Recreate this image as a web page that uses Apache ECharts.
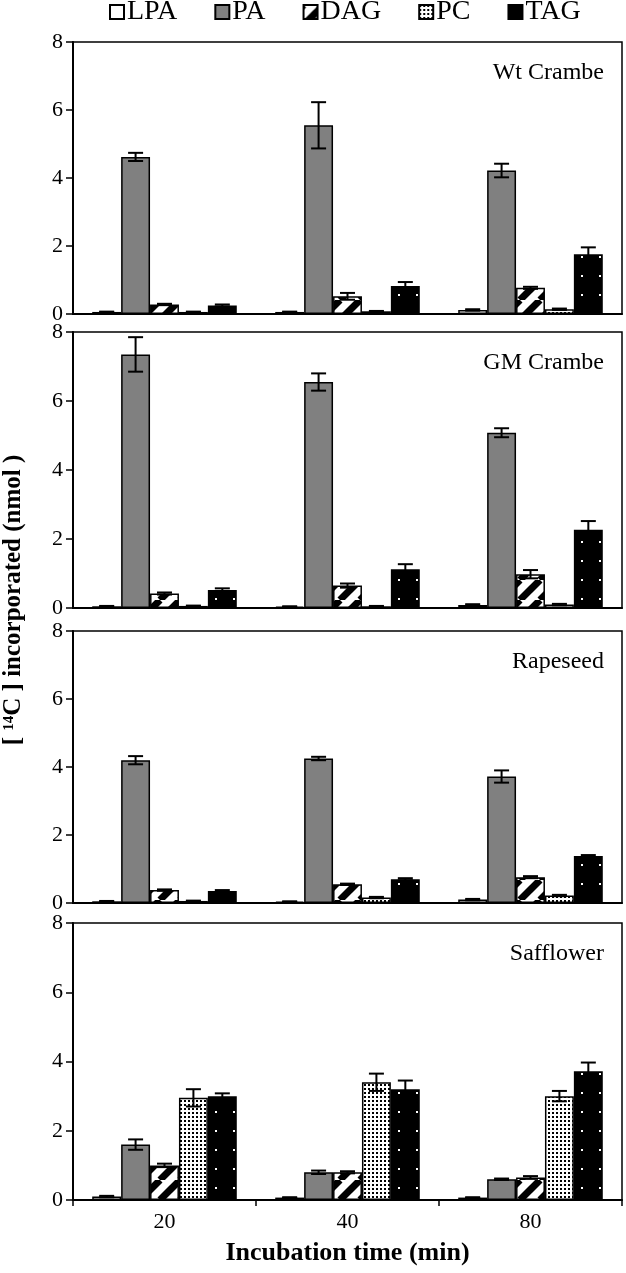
<!DOCTYPE html>
<html>
<head>
<meta charset="utf-8">
<script src="https://cdn.jsdelivr.net/npm/echarts@6/dist/echarts.min.js"></script>
<style>
html,body{margin:0;padding:0;background:#fff;}
#chart{width:626px;height:1273px;}
</style>
</head>
<body>
<div id="chart"></div>
<script>
// ---------- data ----------
const categories = ['20', '40', '80'];
const lipids = ['LPA', 'PA', 'DAG', 'PC', 'TAG'];
const panelNames = ['Wt Crambe', 'GM Crambe', 'Rapeseed', 'Safflower'];
const yTicks = [0, 2, 4, 6, 8];

// rows follow lipids order: LPA, PA, DAG, PC, TAG ; columns follow categories
const wtCrambeValues = [
  [0.06, 0.06, 0.12],
  [4.62, 5.55, 4.22],
  [0.28, 0.52, 0.77],
  [0.06, 0.08, 0.14],
  [0.25, 0.82, 1.76]
];
const wtCrambeErrors = [
  [0.01, 0.01, 0.02],
  [0.12, 0.68, 0.20],
  [0.02, 0.10, 0.03],
  [0.01, 0.01, 0.02],
  [0.03, 0.12, 0.20]
];
const gmCrambeValues = [
  [0.05, 0.04, 0.09],
  [7.35, 6.55, 5.08],
  [0.42, 0.65, 0.98],
  [0.06, 0.05, 0.10],
  [0.52, 1.12, 2.27]
];
const gmCrambeErrors = [
  [0.01, 0.01, 0.02],
  [0.50, 0.25, 0.13],
  [0.03, 0.06, 0.12],
  [0.01, 0.01, 0.02],
  [0.05, 0.15, 0.25]
];
const rapeseedValues = [
  [0.05, 0.04, 0.10],
  [4.20, 4.25, 3.72],
  [0.38, 0.55, 0.76],
  [0.06, 0.16, 0.22],
  [0.35, 0.70, 1.38]
];
const rapeseedErrors = [
  [0.01, 0.01, 0.02],
  [0.12, 0.05, 0.18],
  [0.02, 0.02, 0.03],
  [0.01, 0.02, 0.02],
  [0.03, 0.03, 0.03]
];
const safflowerValues = [
  [0.10, 0.07, 0.07],
  [1.60, 0.80, 0.60],
  [1.00, 0.80, 0.65],
  [2.95, 3.40, 3.00],
  [3.00, 3.20, 3.72]
];
const safflowerErrors = [
  [0.02, 0.01, 0.01],
  [0.15, 0.05, 0.02],
  [0.05, 0.03, 0.04],
  [0.25, 0.25, 0.15],
  [0.08, 0.25, 0.25]
];
const panelValues = [wtCrambeValues, gmCrambeValues, rapeseedValues, safflowerValues];
const panelErrors = [wtCrambeErrors, gmCrambeErrors, rapeseedErrors, safflowerErrors];

// ---------- styles ----------
const FONT = '"Liberation Serif", "Times New Roman", serif';
const gridBoxes = [
  {top: 42, height: 272},
  {top: 332, height: 276},
  {top: 631, height: 272},
  {top: 923, height: 277}
];
const CAT_GAP = 0.21;

function makePattern(w, h, draw) {
  const c = document.createElement('canvas');
  c.width = w; c.height = h;
  const ctx = c.getContext('2d');
  draw(ctx, w, h);
  return {image: c, repeat: 'repeat'};
}
const hatch = makePattern(20, 20, (ctx, w, h) => {
  ctx.fillStyle = '#fff'; ctx.fillRect(0, 0, w, h);
  ctx.strokeStyle = '#000'; ctx.lineWidth = 7;
  for (let k = -1; k <= 1; k++) {
    ctx.beginPath(); ctx.moveTo(k * w, h); ctx.lineTo(k * w + w, 0); ctx.stroke();
  }
});
const dotsDense = makePattern(4, 4, (ctx, w, h) => {
  ctx.fillStyle = '#fff'; ctx.fillRect(0, 0, w, h);
  ctx.fillStyle = '#000'; ctx.fillRect(0, 0, 2, 2);
});
const darkDots = makePattern(61, 19, (ctx, w, h) => {
  ctx.fillStyle = '#000'; ctx.fillRect(0, 0, w, h);
  ctx.fillStyle = '#fff';
  ctx.fillRect(32, 9, 2, 2);
  ctx.fillRect(50, 9, 2, 2);
});
const lipidFills = ['#ffffff', '#808080', hatch, dotsDense, darkDots];

// ---------- build option ----------
const grids = [], xAxes = [], yAxes = [], series = [], titles = [];
gridBoxes.forEach((g, p) => {
  grids.push({left: 73, right: 4, top: g.top, height: g.height, show: true,
    borderColor: '#000', borderWidth: 1.5, backgroundColor: 'transparent'});
  const last = p === gridBoxes.length - 1;
  xAxes.push({
    type: 'category', gridIndex: p, data: categories,
    axisLine: {show: true, lineStyle: {color: '#000', width: 2}},
    axisTick: {show: last, length: 6, lineStyle: {color: '#000', width: 1.5}},
    axisLabel: {show: last, color: '#000', fontFamily: FONT, fontSize: 22, margin: 11},
    splitLine: {show: false},
    name: last ? 'Incubation time (min)' : '',
    nameLocation: 'middle', nameGap: 40,
    nameTextStyle: {color: '#000', fontFamily: FONT, fontSize: 26, fontWeight: 'bold'}
  });
  yAxes.push({
    type: 'value', gridIndex: p, min: yTicks[0], max: yTicks[yTicks.length - 1], interval: 2,
    axisLine: {show: true, lineStyle: {color: '#000', width: 2}},
    axisTick: {show: true, length: 7, lineStyle: {color: '#000', width: 1.5}},
    axisLabel: {color: '#000', fontFamily: FONT, fontSize: 22, margin: 10},
    splitLine: {show: false}
  });
  titles.push({text: panelNames[p], right: 17, top: g.top + 14,
    textStyle: {color: '#000', fontFamily: FONT, fontSize: 24, fontWeight: 'normal'}});
  lipids.forEach((name, li) => {
    series.push({
      type: 'bar', name, xAxisIndex: p, yAxisIndex: p,
      data: panelValues[p][li],
      barGap: '0%', barCategoryGap: (CAT_GAP * 100) + '%',
      itemStyle: {color: lipidFills[li], borderColor: '#000', borderWidth: 1.5},
      emphasis: {disabled: true}, animation: false
    });
  });
  const errData = [];
  lipids.forEach((name, li) => {
    categories.forEach((c, ci) => {
      errData.push([ci, li, panelValues[p][li][ci], panelErrors[p][li][ci]]);
    });
  });
  series.push({
    type: 'custom', xAxisIndex: p, yAxisIndex: p, data: errData, z: 10,
    encode: {x: 0, y: 2}, animation: false, silent: true,
    renderItem: (params, api) => {
      const ci = api.value(0), li = api.value(1), v = api.value(2), e = api.value(3);
      const catW = api.size([1, 0])[0];
      const barW = catW * (1 - CAT_GAP) / lipids.length;
      const base = api.coord([ci, v]);
      const x = base[0] + (li - (lipids.length - 1) / 2) * barW;
      const yTop = api.coord([ci, v + e])[1];
      const yBot = api.coord([ci, Math.max(v - e, 0)])[1];
      const cap = 7.5;
      const st = {stroke: '#000', lineWidth: 2};
      return {type: 'group', children: [
        {type: 'line', shape: {x1: x, y1: yTop, x2: x, y2: yBot}, style: st},
        {type: 'line', shape: {x1: x - cap, y1: yTop, x2: x + cap, y2: yTop}, style: st},
        {type: 'line', shape: {x1: x - cap, y1: yBot, x2: x + cap, y2: yBot}, style: st}
      ]};
    }
  });
});

const option = {
  backgroundColor: '#fff',
  animation: false,
  title: titles,
  legend: {
    data: lipids, top: -2, left: 109, itemGap: 37, itemWidth: 14, itemHeight: 14,
    icon: 'rect', padding: 0, selectedMode: false,
    textStyle: {color: '#000', fontFamily: FONT, fontSize: 28, padding: [0, 0, 0, -2]}
  },
  grid: grids, xAxis: xAxes, yAxis: yAxes, series,
  graphic: [{
    type: 'text', x: 14, y: 600, rotation: Math.PI / 2,
    style: {
      text: '{b|[ }{s|14}{b|C ] incorporated (nmol )}',
      align: 'center', verticalAlign: 'middle',
      rich: {
        b: {fontFamily: FONT, fontSize: 25, fontWeight: 'bold', fill: '#000'},
        s: {fontFamily: FONT, fontSize: 15, fontWeight: 'bold', fill: '#000', verticalAlign: 'top', padding: [0, 0, 9, 0]}
      }
    }
  }]
};
const chart = echarts.init(document.getElementById('chart'), null, {renderer: 'canvas'});
chart.setOption(option);
</script>
</body>
</html>
